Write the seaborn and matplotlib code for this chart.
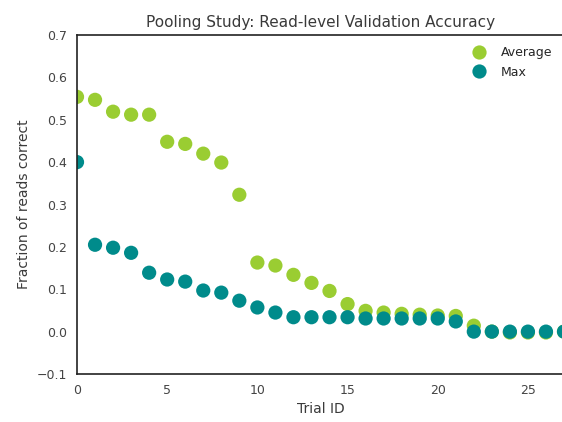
import numpy as np
import pandas as pd
import matplotlib
matplotlib.use("Agg")
import matplotlib.pyplot as plt
import seaborn as sns

trial_ids = list(range(28))
average = [0.554, 0.547, 0.519, 0.512, 0.512, 0.448, 0.443, 0.420, 0.399, 0.323,
           0.163, 0.156, 0.134, 0.115, 0.096, 0.065, 0.049, 0.045, 0.042, 0.040,
           0.038, 0.037, 0.014, 0.0, -0.002, -0.002, -0.002, 0.0]
maximum = [0.400, 0.205, 0.198, 0.186, 0.139, 0.123, 0.118, 0.097, 0.092, 0.073,
           0.057, 0.045, 0.034, 0.034, 0.034, 0.034, 0.031, 0.031, 0.031, 0.031,
           0.031, 0.024, 0.0, 0.0, 0.0, 0.0, 0.0, 0.0]
series_names = ["Average", "Max"]
colors = ["#9acd32", "#008b8b"]

df = pd.DataFrame({
    "Trial ID": trial_ids * 2,
    "value": average + maximum,
    "series": [series_names[0]] * len(trial_ids) + [series_names[1]] * len(trial_ids),
})

sns.set_style("white")
plt.rcParams['font.family'] = ['DejaVu Sans']

fig = plt.figure(figsize=(5.62, 4.22), dpi=100)
ax = fig.add_axes([77/562, 48/422, 487/562, 339/422])
sns.scatterplot(data=df, x="Trial ID", y="value", hue="series", palette=colors,
                s=105, linewidth=0, ax=ax)
ax.set_xlim(0, 27)
ax.set_ylim(-0.1, 0.7)
ax.set_xticks([0, 5, 10, 15, 20, 25])
ax.set_yticks([-0.1, 0.0, 0.1, 0.2, 0.3, 0.4, 0.5, 0.6, 0.7])
ax.set_xlabel("Trial ID", fontsize=10, color="#3a3a3a")
ax.set_ylabel("Fraction of reads correct", fontsize=10, color="#3a3a3a")
ax.set_title("Pooling Study: Read-level Validation Accuracy", fontsize=11, color="#3a3a3a")
ax.tick_params(labelsize=9, colors="#444444")
for sp in ax.spines.values():
    sp.set_color("#222222")
    sp.set_linewidth(1.2)
leg = ax.legend(loc="upper right", frameon=False, fontsize=9, title=None)
fig.savefig("out.png", dpi=100)
